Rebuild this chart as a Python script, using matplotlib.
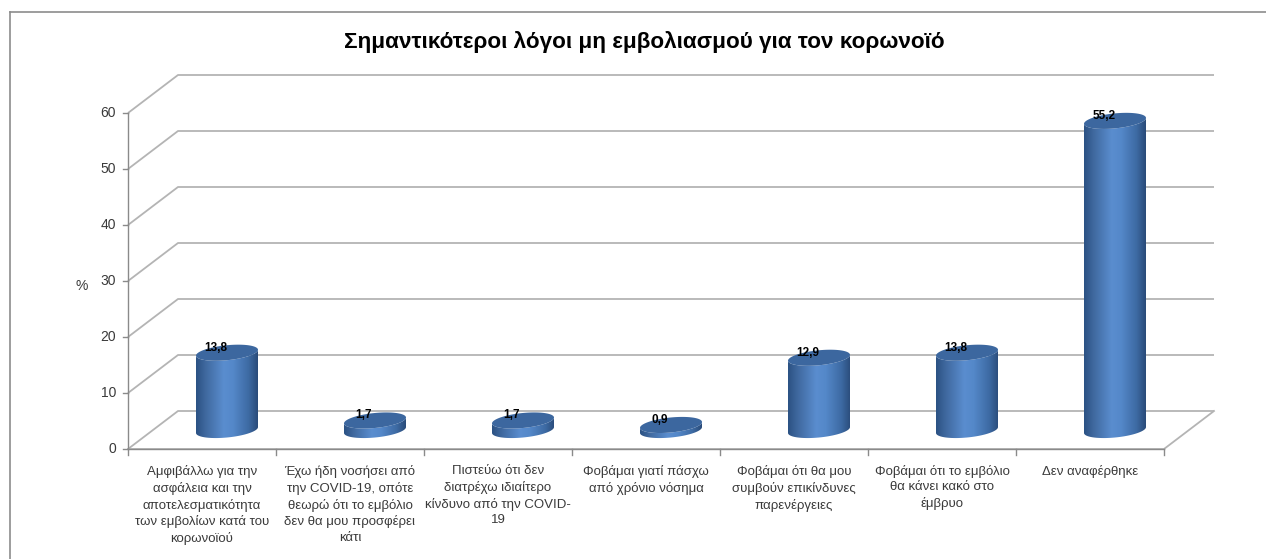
import numpy as np
import matplotlib
matplotlib.use("Agg")
import matplotlib.pyplot as plt
from matplotlib.patches import Polygon
from matplotlib.colors import LinearSegmentedColormap

plt.rcParams['font.family'] = ['Liberation Sans', 'DejaVu Sans']

title = "Σημαντικότεροι λόγοι μη εμβολιασμού για τον κορωνοϊό"
categories = [
    "Αμφιβάλλω για την\nασφάλεια και την\nαποτελεσματικότητα\nτων εμβολίων κατά του\nκορωνοϊού",
    "Έχω ήδη νοσήσει από\nτην COVID-19, οπότε\nθεωρώ ότι το εμβόλιο\nδεν θα μου προσφέρει\nκάτι",
    "Πιστεύω ότι δεν\nδιατρέχω ιδιαίτερο\nκίνδυνο από την COVID-\n19",
    "Φοβάμαι γιατί πάσχω\nαπό χρόνιο νόσημα",
    "Φοβάμαι ότι θα μου\nσυμβούν επικίνδυνες\nπαρενέργειες",
    "Φοβάμαι ότι το εμβόλιο\nθα κάνει κακό στο\nέμβρυο",
    "Δεν αναφέρθηκε",
]
values = [13.8, 1.7, 1.7, 0.9, 12.9, 13.8, 55.2]
yticks = [0, 10, 20, 30, 40, 50, 60]

W, H = 1266, 559
fig = plt.figure(figsize=(W / 100, H / 100), dpi=100)
fig.patch.set_facecolor('white')

# front plane: x 128..1164 px, y 449..113 px ; back wall shifted by (+50, -38) px
px_cat = 148.0
px_val = 5.6
DX = 50 / px_cat
DY = 38 / px_val
n = len(categories)
ymax = 60

ax = fig.add_axes([128 / W, 1 - 449 / H, (1214 - 128) / W, (449 - 75) / H])
ax.set_axis_off()

grid_c = '#b4b4b4'
axis_c = '#8a8a8a'

# gridlines on the side wall and back wall
for v in yticks:
    ax.plot([0, DX, n + DX], [v, v + DY, v + DY], color=grid_c, lw=1.3,
            solid_capstyle='butt', clip_on=False, zorder=1)
# floor edges
ax.plot([0, n, n + DX], [0, 0, DY], color=grid_c, lw=1.3, clip_on=False, zorder=1)
ax.plot([0, n], [0, 0], color=axis_c, lw=1.0, clip_on=False, zorder=2)

# value axis
ax.plot([0, 0], [0, ymax], color=axis_c, lw=1.0, clip_on=False, zorder=2)
for v in yticks:
    ax.plot([0, -5 / px_cat], [v, v], color=axis_c, lw=1.0, clip_on=False)
    ax.text(-12 / px_cat, v, str(v), ha='right', va='center', fontsize=10,
            color='#3a3a3a')
ax.text(-46 / px_cat, 30 - 5 / px_val, '%', ha='center', va='center',
        fontsize=10, color='#3a3a3a')

# category ticks
for i in range(n + 1):
    ax.plot([i, i], [0, -6 / px_val], color=axis_c, lw=1.0, clip_on=False)

for i, lab in enumerate(categories):
    ax.text(i + 0.5, -16 / px_val, lab, ha='center', va='top', fontsize=9.5,
            color='#3a3a3a', linespacing=1.38)

# cylinders
cmap = LinearSegmentedColormap.from_list('cyl', [
    (0.0, '#2b5183'), (0.15, '#3f689e'), (0.45, '#5a8dcf'),
    (0.6, '#5488c9'), (0.85, '#3d6aa3'), (1.0, '#2a4b79')])
grad = np.linspace(0, 1, 256).reshape(1, -1)

a = 31 / px_cat          # half width
b = 7.5 / px_val         # ellipse half height
k = 2.5                  # tilt of the ellipses
t_lo = np.linspace(np.pi, 2 * np.pi, 60)
t_all = np.linspace(0, 2 * np.pi, 120)


def ellipse(cx, cy, t):
    x = cx + a * np.cos(t)
    y = cy + b * np.sin(t) + k * a * np.cos(t)
    return x, y


for i, v in enumerate(values):
    cx = i + 0.5 + DX / 2
    base = DY / 2
    top = base + v
    bx, by = ellipse(cx, base, t_lo)
    tx, ty = ellipse(cx, top, t_lo[::-1])
    body = Polygon(np.column_stack([np.r_[bx, tx], np.r_[by, ty]]),
                   closed=True, fc='none', ec='none')
    ax.add_patch(body)
    im = ax.imshow(grad, cmap=cmap, aspect='auto', interpolation='bilinear',
                   extent=[cx - a, cx + a, base - b - k * a, top + b + k * a],
                   zorder=3)
    im.set_clip_path(body)
    ex, ey = ellipse(cx, top, t_all)
    ax.fill(ex, ey, color='#3c679f', lw=0, zorder=4)
    ax.text(cx - 11 / px_cat, top + 5 / px_val, f"{v:.1f}".replace('.', ','),
            ha='center', va='center', fontsize=8.5, fontweight='bold',
            color='black', zorder=5)

ax.set_xlim(0, n + DX)
ax.set_ylim(0, ymax + DY)

fig.text(644 / W, 1 - 42 / H, title, ha='center', va='center', fontsize=16.2,
         fontweight='bold', color='black')

# chart frame
fig.add_artist(plt.Line2D([10 / W, 10 / W], [0, 1 - 12 / H], color='#8c8c8c',
                          lw=1.2, transform=fig.transFigure))
fig.add_artist(plt.Line2D([10 / W, 1], [1 - 12 / H, 1 - 12 / H], color='#8c8c8c',
                          lw=1.2, transform=fig.transFigure))

fig.savefig('out.png', dpi=100)
